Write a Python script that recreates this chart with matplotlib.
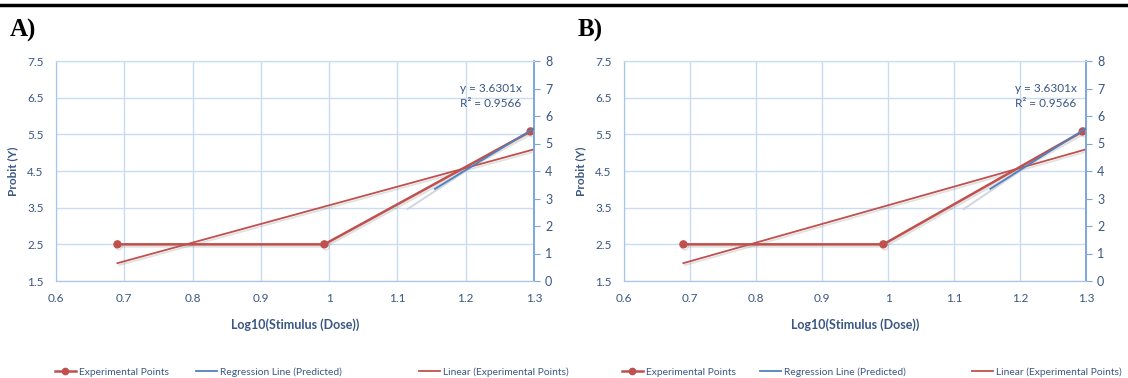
import matplotlib
matplotlib.use("Agg")
import matplotlib.pyplot as plt
import matplotlib.patheffects as pe
from matplotlib.lines import Line2D
import numpy as np

plt.rcParams['font.family'] = ['Lato', 'DejaVu Sans']

# data (both panels show the same chart)
panel_labels = ["A)", "B)"]
dose_log = [0.69, 0.993, 1.295]          # Log10(Stimulus (Dose))
probit = [2.5, 2.5, 5.58]                # Probit (Y), left axis
reg_x = [1.155, 1.30]                    # Regression Line (Predicted), right axis
reg_y = [3.35, 5.55]
reg_shadow_x = [1.115, 1.20]
reg_shadow_y = [2.62, 4.0]
eq_text = "y = 3.6301x\nR\u00b2 = 0.9566"
xticks = [0.6, 0.7, 0.8, 0.9, 1.0, 1.1, 1.2, 1.3]
xticklabels = ["0.6", "0.7", "0.8", "0.9", "1", "1.1", "1.2", "1.3"]
yticks_left = [1.5, 2.5, 3.5, 4.5, 5.5, 6.5, 7.5]
yticks_right = [0, 1, 2, 3, 4, 5, 6, 7, 8]
legend_labels = ["Experimental Points", "Regression Line (Predicted)",
                 "Linear (Experimental Points)"]

RED = "#C0504D"
BLUE = "#4F81BD"
TXT = "#3A5683"
GRID = "#CADCF1"

W, H = 1128, 378
fig = plt.figure(figsize=(W / 100, H / 100), dpi=100)

# top rule
fig.add_artist(Line2D([0, 1], [1 - 5 / H, 1 - 5 / H], transform=fig.transFigure,
                      color="black", lw=2.5))

# axes boxes in pixels: (left, right)
boxes = [(56, 534), (624, 1086)]
top_px, bot_px = 61, 281
legend_px = [[55, 196, 419], [622, 760, 972]]

shadow = [pe.SimpleLineShadow(offset=(1, -1.5), shadow_color="#888888", alpha=0.25),
          pe.Normal()]

# trendline of experimental points
coef = np.polyfit(dose_log, probit, 1)
trend_x = np.array([dose_log[0], 1.30])
trend_y = np.polyval(coef, trend_x)

for i, (l, r) in enumerate(boxes):
    ax = fig.add_axes([l / W, 1 - bot_px / H, (r - l) / W, (bot_px - top_px) / H])
    ax2 = ax.twinx()

    ax.set_xlim(0.6, 1.3)
    ax.set_ylim(1.5, 7.5)
    ax2.set_ylim(0, 8)

    ax.set_xticks(xticks)
    ax.set_xticklabels(xticklabels)
    ax.set_yticks(yticks_left)
    ax2.set_yticks(yticks_right)
    ax.grid(True, color=GRID, lw=1)
    ax.set_axisbelow(True)

    for a in (ax, ax2):
        for s in a.spines.values():
            s.set_color(GRID)
        a.spines['left'].set_color("#A9C6EA")
        a.spines['bottom'].set_color("#A9C6EA")
        a.spines['right'].set_color("#7EA6DA")
        a.spines['right'].set_linewidth(1.2)

    ax.tick_params(axis='x', length=0, pad=9, labelsize=8.5, labelcolor=TXT)
    ax.tick_params(axis='y', length=0, pad=9, labelsize=8.5, labelcolor=TXT)
    ax2.tick_params(axis='y', length=4, color="#7EA6DA", pad=4, labelsize=9,
                    labelcolor=TXT)

    # lines
    ax.plot(trend_x, trend_y, color=RED, lw=1.3, path_effects=shadow, zorder=3)
    ax.plot(dose_log, probit, color=RED, lw=1.8, marker="o", ms=5,
            path_effects=shadow, zorder=4)
    ax2.plot(reg_shadow_x, reg_shadow_y, color="#C8CED6", lw=1.5, alpha=0.8, zorder=2)
    ax2.plot(reg_x, reg_y, color=BLUE, lw=1.3, zorder=3)

    ax.text(1.192, 6.55, eq_text, color=TXT, fontsize=8.5, va="center", ha="left",
            linespacing=1.5)

    ax.set_xlabel("Log10(Stimulus (Dose))", color=TXT, fontsize=9,
                  fontweight="bold", labelpad=10)
    ax.set_ylabel("Probit (Y)", color=TXT, fontsize=8.5, fontweight="bold", labelpad=6)

    fig.text((l - 46) / W, 1 - 30 / H, panel_labels[i], family="Liberation Serif",
             fontsize=18, fontweight="bold", va="center", ha="left")

    handles = [Line2D([], [], color=RED, lw=1.8, marker="o", ms=4.5),
               Line2D([], [], color=BLUE, lw=1.3),
               Line2D([], [], color=RED, lw=1.3)]
    for h, lab, xp in zip(handles, legend_labels, legend_px[i]):
        fig.legend([h], [lab], loc="center left",
                   bbox_to_anchor=(xp / W, 1 - 372 / H), frameon=False,
                   fontsize=7.4, labelcolor=TXT, handlelength=2.0, handletextpad=0.3,
                   borderpad=0, borderaxespad=0)

fig.savefig("out.png", dpi=100)
